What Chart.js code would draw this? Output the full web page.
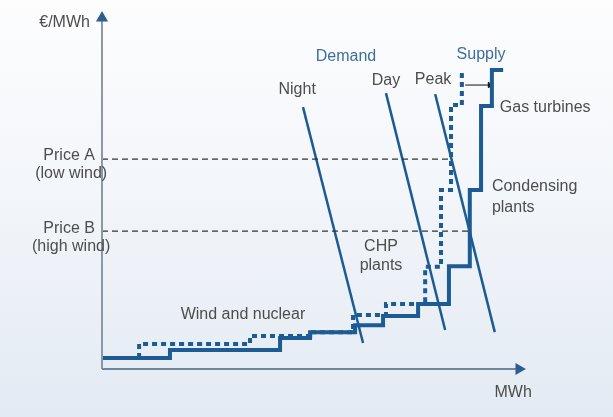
<!DOCTYPE html>
<html>
<head>
<meta charset="utf-8">
<script src="https://cdn.jsdelivr.net/npm/chart.js@4"></script>
<style>
  html, body { margin: 0; padding: 0; }
  #wrap {
    width: 613px; height: 417px; position: relative;
    background: linear-gradient(180deg, #fdfdfe 0%, #f3f6fa 45%, #e3eaf3 100%);
  }
</style>
</head>
<body>
<div id="wrap"><canvas id="c"></canvas></div>
<script>
// --- data (x = MWh, y = €/MWh, arbitrary units 0..100) ---
// solid supply curve (high wind)
const highWindMWh   = [0, 16.3, 42.7, 49.9, 60.7, 67.4, 75.8, 83.2, 88.2, 90.9, 93.5, 96.2];
const highWindPrice = [3.1, 3.1, 5.4, 8.8, 10.5, 12.5, 15.1, 18.5, 29.3, 51.0, 74.9, 85.2];
// dashed supply curve (low wind)
const lowWindMWh   = [8.9, 8.9, 35.5, 49.9, 60.2, 68.1, 77.5, 81.3, 83.7, 86.3, 86.3];
const lowWindPrice = [3.1, 7.1, 7.1, 9.4, 10.5, 15.4, 18.5, 29.1, 51.0, 75.2, 85.2];
// demand lines
const nightMWh = [48.2, 62.6], nightPrice = [74.6, 7.4];
const dayMWh   = [68.1, 82.3], dayPrice   = [78.6, 11.1];
const peakMWh  = [79.9, 94.2], peakPrice  = [78.3, 10.5];
// price levels
const priceLevels = [59.8, 39.3];
const priceEnds   = [83.7, 87.8];
// shift arrow
const shiftMWh = [87.1, 93.0], shiftPrice = [80.9, 80.9];

const labels = [
  { t: '€/MWh', x: -2.9, y: 98.6, a: 'right' },
  { t: 'Price A', x: -1.7, y: 60.7, a: 'right' },
  { t: '(low wind)', x: -7.4, y: 55.8, a: 'center' },
  { t: 'Price B', x: -1.7, y: 39.9, a: 'right' },
  { t: '(high wind)', x: -7.4, y: 34.8, a: 'center' },
  { t: 'Demand', x: 58.5, y: 88.9, a: 'center', c: '#3c6e9e' },
  { t: 'Supply', x: 90.9, y: 89.5, a: 'center', c: '#3c6e9e' },
  { t: 'Night', x: 46.8, y: 79.5, a: 'center' },
  { t: 'Day', x: 68.1, y: 82.1, a: 'center' },
  { t: 'Peak', x: 79.4, y: 82.4, a: 'center' },
  { t: 'Gas turbines', x: 95.4, y: 74.4, a: 'left' },
  { t: 'Condensing', x: 93.5, y: 51.9, a: 'left' },
  { t: 'plants', x: 93.5, y: 45.9, a: 'left' },
  { t: 'CHP', x: 66.9, y: 34.8, a: 'center' },
  { t: 'plants', x: 66.9, y: 29.6, a: 'center' },
  { t: 'Wind and nuclear', x: 33.8, y: 15.4, a: 'center' },
  { t: 'MWh', x: 98.6, y: -6.8, a: 'center' }
];

const pts = (xs, ys) => xs.map((x, i) => ({ x: x, y: ys[i] }));
const blue = '#1d5b93';

const textPlugin = {
  id: 'texts',
  afterDatasetsDraw(chart) {
    const ctx = chart.ctx, sx = chart.scales.x, sy = chart.scales.y;
    ctx.save();
    ctx.font = '16px "Liberation Sans", Arial, sans-serif';
    ctx.textBaseline = 'middle';
    labels.forEach(l => {
      ctx.fillStyle = l.c || '#4d4d4d';
      ctx.textAlign = l.a;
      ctx.fillText(l.t, sx.getPixelForValue(l.x), sy.getPixelForValue(l.y));
    });
    ctx.restore();
  }
};

const line = (data, opts) => Object.assign({
  data: data, showLine: true, pointRadius: 0, clip: false,
  borderColor: blue, backgroundColor: blue, borderWidth: 4, fill: false
}, opts);

new Chart(document.getElementById('c'), {
  type: 'scatter',
  data: {
    datasets: [
      line(pts([0, 100], [0, 0]), { borderColor: '#6f86a0', borderWidth: 2,
        pointRadius: [0, 5], pointStyle: 'triangle', rotation: 90,
        pointBackgroundColor: '#2d5e8e', pointBorderColor: '#2d5e8e' }),
      line(pts([0, 0], [0, 100]), { borderColor: '#8a98a8', borderWidth: 2,
        pointRadius: [0, 5], pointStyle: 'triangle',
        pointBackgroundColor: '#2d5e8e', pointBorderColor: '#2d5e8e' }),
      line(pts([0, priceEnds[0]], [priceLevels[0], priceLevels[0]]), { borderColor: '#333', borderWidth: 1.2, borderDash: [6, 4] }),
      line(pts([0, priceEnds[1]], [priceLevels[1], priceLevels[1]]), { borderColor: '#333', borderWidth: 1.2, borderDash: [6, 4] }),
      line(pts(nightMWh, nightPrice), { borderWidth: 2.5 }),
      line(pts(dayMWh, dayPrice), { borderWidth: 2.5 }),
      line(pts(peakMWh, peakPrice), { borderWidth: 2.5 }),
      line(pts(highWindMWh, highWindPrice), { stepped: 'after' }),
      line(pts(lowWindMWh, lowWindPrice), { stepped: 'after', borderDash: [5, 4] }),
      line(pts(shiftMWh, shiftPrice), { borderColor: '#111', borderWidth: 1,
        pointRadius: [0, 3], pointStyle: 'triangle', rotation: 90,
        pointBackgroundColor: '#111', pointBorderColor: '#111' })
    ]
  },
  options: {
    responsive: true, maintainAspectRatio: false, animation: false,
    layout: { padding: { left: 102, right: 94, top: 18, bottom: 48 } },
    plugins: { legend: { display: false }, tooltip: { enabled: false } },
    scales: {
      x: { type: 'linear', min: 0, max: 100, display: false },
      y: { type: 'linear', min: 0, max: 100, display: false }
    }
  },
  plugins: [textPlugin]
});
</script>
</body>
</html>
